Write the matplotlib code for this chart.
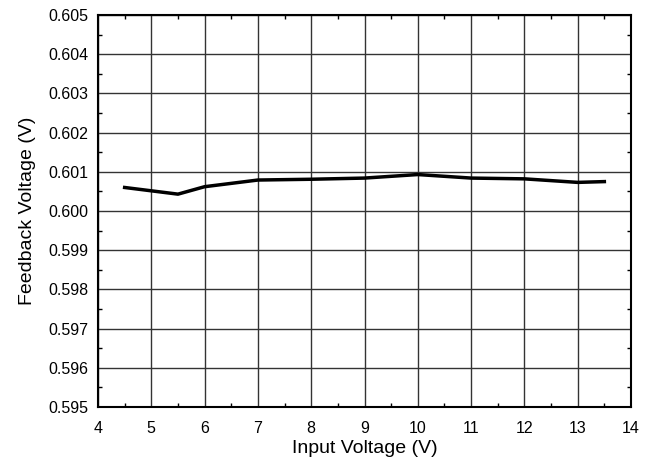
import matplotlib
matplotlib.use("Agg")
import matplotlib.pyplot as plt
from matplotlib.ticker import MultipleLocator, FormatStrFormatter

input_voltage = [4.5, 5.5, 6, 7, 8, 9, 10, 11, 12, 13, 13.5]
feedback_voltage = [0.60060, 0.60043, 0.60062, 0.60079, 0.60081, 0.60084,
                    0.60093, 0.60084, 0.60082, 0.60073, 0.60075]
x_ticks = [4, 5, 6, 7, 8, 9, 10, 11, 12, 13, 14]
y_ticks = [0.595, 0.596, 0.597, 0.598, 0.599, 0.600, 0.601, 0.602, 0.603, 0.604, 0.605]

plt.rcParams['font.family'] = ['Liberation Sans', 'DejaVu Sans']

fig = plt.figure(figsize=(6.54, 4.61), dpi=100)
ax = fig.add_axes([98/654, 1 - 407/461, (631 - 98)/654, (407 - 15)/461])

ax.plot(input_voltage, feedback_voltage, color='black', lw=2.5, zorder=3)

ax.set_xlim(4, 14)
ax.set_ylim(0.595, 0.605)
ax.set_xticks(x_ticks)
ax.set_yticks(y_ticks)
ax.yaxis.set_major_formatter(FormatStrFormatter('%.3f'))
ax.xaxis.set_minor_locator(MultipleLocator(0.5))
ax.yaxis.set_minor_locator(MultipleLocator(0.0005))

ax.grid(True, which='major', color='#333333', lw=1.0)
ax.tick_params(which='both', direction='in', top=True, right=True, labelsize=11.5)
ax.tick_params(axis='x', which='major', length=0, pad=10)
ax.tick_params(axis='y', which='major', length=0, pad=7)
ax.tick_params(which='minor', length=3, width=1)

for s in ax.spines.values():
    s.set_linewidth(1.5)
    s.set_color('black')

ax.set_xlabel('Input Voltage (V)', fontsize=14, labelpad=3)
ax.set_ylabel('Feedback Voltage (V)', fontsize=14, labelpad=9)

fig.savefig('out.png', dpi=100)
